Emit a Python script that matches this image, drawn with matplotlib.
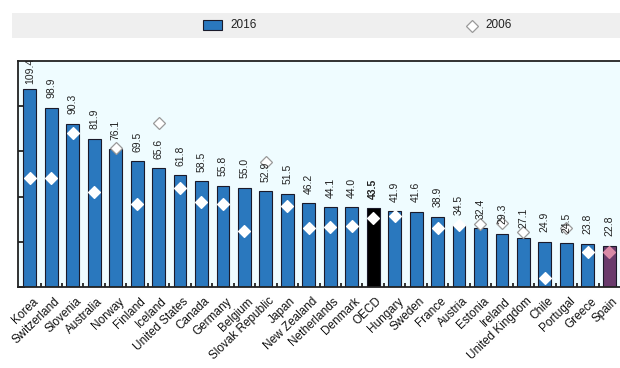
import matplotlib.pyplot as plt
from matplotlib.patches import Rectangle
from matplotlib.lines import Line2D

plt.rcParams['font.family'] = ['Liberation Sans', 'DejaVu Sans']

countries = ['Korea', 'Switzerland', 'Slovenia', 'Australia', 'Norway', 'Finland',
             'Iceland', 'United States', 'Canada', 'Germany', 'Belgium',
             'Slovak Republic', 'Japan', 'New Zealand', 'Netherlands', 'Denmark',
             'OECD', 'Hungary', 'Sweden', 'France', 'Austria', 'Estonia', 'Ireland',
             'United Kingdom', 'Chile', 'Portugal', 'Greece', 'Spain']
values_2016 = [109.4, 98.9, 90.3, 81.9, 76.1, 69.5, 65.6, 61.8, 58.5, 55.8, 55.0,
               52.9, 51.5, 46.2, 44.1, 44.0, 43.5, 41.9, 41.6, 38.9, 34.5, 32.4,
               29.3, 27.1, 24.9, 24.5, 23.8, 22.8]
values_2006 = [60.4, 60.2, 85.0, 52.5, 77.0, 46.0, 90.8, 54.7, 47.0, 45.7, 31.0,
               69.0, 45.0, 32.8, 33.3, 34.0, 38.3, 39.4, None, 32.8, 34.4, 34.6,
               35.2, 30.4, 5.1, 32.8, 19.5, 19.5]

blue = '#2a78be'
bar_colors = [blue] * len(countries)
bar_colors[countries.index('OECD')] = '#000000'
bar_colors[countries.index('Spain')] = '#6a3b6c'

fig = plt.figure(figsize=(6.2, 3.68), dpi=100)
ax = fig.add_axes([18 / 620, 1 - 287 / 368, 1 - 18 / 620, (287 - 61) / 368])
ax.set_facecolor('#effcff')

x = list(range(len(countries)))
ax.bar(x, values_2016, width=0.6, color=bar_colors, edgecolor='#1a1a2a', linewidth=0.8, zorder=2)

# value labels above the bars (clipped by the frame like the original)
for i, v in enumerate(values_2016):
    weight = 'bold' if countries[i] == 'OECD' else 'normal'
    gap = 4 if i == 0 else 7
    ax.annotate(f'{v:.1f}', xy=(i, v), xytext=(0, gap), textcoords='offset points',
                rotation=90, ha='center', va='bottom', fontsize=7.5,
                fontweight=weight, color='#222222', annotation_clip=False,
                clip_on=True, zorder=4)

for i, v in enumerate(values_2006):
    if v is None:
        continue
    inside = v <= values_2016[i]
    face = '#d98aa6' if countries[i] == 'Spain' else 'white'
    edge = face if inside else '#999999'
    ax.plot(i, v, marker='D', markersize=6, markerfacecolor=face,
            markeredgecolor=edge, markeredgewidth=0.9, linestyle='none', zorder=3)

ax.set_xlim(-0.55, 27.5)
ax.set_ylim(0, 125)
ax.set_yticks([0, 25, 50, 75, 100])
ax.set_yticklabels([])
ax.tick_params(axis='y', direction='in', length=5, width=1.2, color='#111111')
ax.set_xticks([i + 0.5 for i in x[:-1]], minor=True)
ax.tick_params(axis='x', which='minor', direction='in', length=3, width=1.2, color='#111111')
ax.set_xticks(x)
ax.set_xticklabels([])
ax.tick_params(axis='x', which='major', length=0)
for side in ['top', 'bottom', 'left']:
    ax.spines[side].set_linewidth(1.3)
    ax.spines[side].set_color('#222222')
    ax.spines[side].set_zorder(5)
ax.spines['right'].set_visible(False)

# rotated country names, right end tucked under each bar
for i, name in enumerate(countries):
    ax.annotate(name, xy=(i + 0.12, 0), xycoords='data', xytext=(0, -6),
                textcoords='offset points', rotation=44, ha='right', va='top',
                fontsize=8.5, color='#111111', rotation_mode='anchor')

# legend band
fig.patches.append(Rectangle((12 / 620, 1 - 38 / 368), 1, 25 / 368,
                             transform=fig.transFigure, facecolor='#efefef',
                             edgecolor='none', zorder=0))
fig.patches.append(Rectangle((203 / 620, 1 - 30 / 368), 19 / 620, 10 / 368,
                             transform=fig.transFigure, facecolor=blue,
                             edgecolor='#1a1a2a', linewidth=0.8))
fig.text(230 / 620, 1 - 25.5 / 368, '2016', fontsize=8.5, va='center', color='#222222')
fig.lines.append(Line2D([472 / 620], [1 - 25.5 / 368], transform=fig.transFigure,
                        marker='D', markersize=6, markerfacecolor='white',
                        markeredgecolor='#999999', markeredgewidth=0.9, linestyle='none'))
fig.text(485 / 620, 1 - 25.5 / 368, '2006', fontsize=8.5, va='center', color='#222222')

fig.savefig('out.png', dpi=100)
